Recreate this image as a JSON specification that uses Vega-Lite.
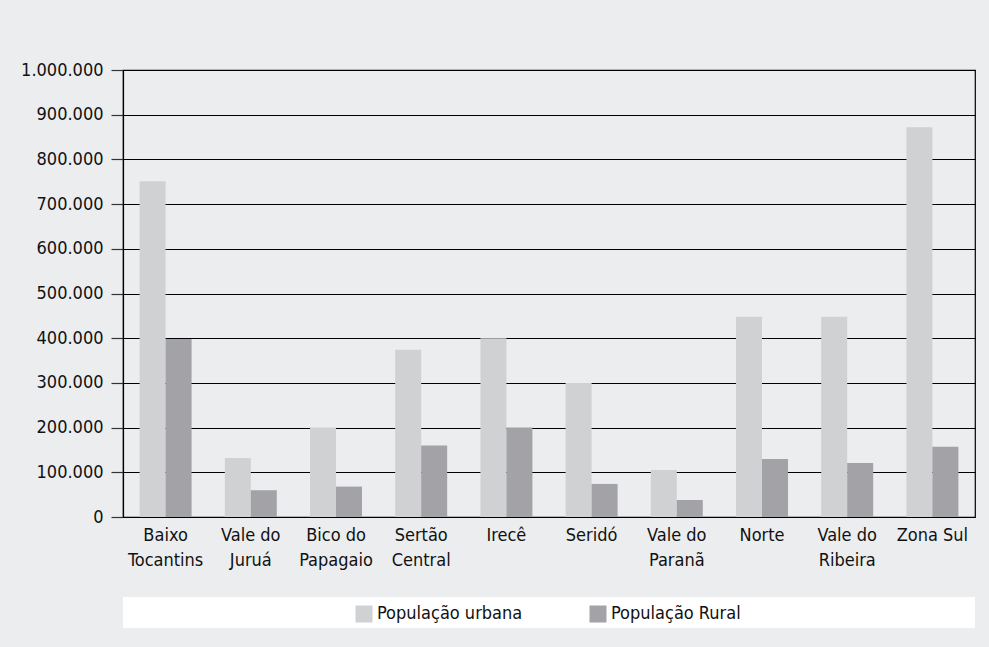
{
  "$schema": "https://vega.github.io/schema/vega-lite/v6.json",
  "width": 852,
  "height": 447,
  "autosize": {"type": "none"},
  "padding": {"left": 123, "top": 70, "right": 14, "bottom": 130},
  "background": "#ecedef",
  "config": {
    "font": "'DejaVu Sans Condensed', 'Roboto Condensed', Roboto, sans-serif",
    "view": {"stroke": "#000000", "strokeWidth": 1.2, "fill": "#ecedef"}
  },
  "data": {
    "values": [
      {"regiao": "Baixo Tocantins", "serie": "População urbana", "valor": 751000},
      {"regiao": "Baixo Tocantins", "serie": "População Rural", "valor": 398000},
      {"regiao": "Vale do Juruá", "serie": "População urbana", "valor": 132000},
      {"regiao": "Vale do Juruá", "serie": "População Rural", "valor": 60000},
      {"regiao": "Bico do Papagaio", "serie": "População urbana", "valor": 200000},
      {"regiao": "Bico do Papagaio", "serie": "População Rural", "valor": 68000},
      {"regiao": "Sertão Central", "serie": "População urbana", "valor": 374000},
      {"regiao": "Sertão Central", "serie": "População Rural", "valor": 160000},
      {"regiao": "Irecê", "serie": "População urbana", "valor": 400000},
      {"regiao": "Irecê", "serie": "População Rural", "valor": 200000},
      {"regiao": "Seridó", "serie": "População urbana", "valor": 300000},
      {"regiao": "Seridó", "serie": "População Rural", "valor": 74000},
      {"regiao": "Vale do Paranã", "serie": "População urbana", "valor": 105000},
      {"regiao": "Vale do Paranã", "serie": "População Rural", "valor": 38000},
      {"regiao": "Norte", "serie": "População urbana", "valor": 448000},
      {"regiao": "Norte", "serie": "População Rural", "valor": 130000},
      {"regiao": "Vale do Ribeira", "serie": "População urbana", "valor": 448000},
      {"regiao": "Vale do Ribeira", "serie": "População Rural", "valor": 121000},
      {"regiao": "Zona Sul", "serie": "População urbana", "valor": 872000},
      {"regiao": "Zona Sul", "serie": "População Rural", "valor": 157000}
    ]
  },
  "layer": [
    {
      "mark": {"type": "rect", "fill": "#ffffff", "clip": false},
      "encoding": {
        "y": {"datum": -179000, "type": "quantitative", "scale": {"domain": [0, 1000000], "nice": false}},
        "y2": {"datum": -248000}
      }
    },
    {
      "mark": {"type": "bar"},
      "encoding": {
        "x": {
          "field": "regiao",
          "type": "nominal",
          "sort": null,
          "scale": {"paddingInner": 0.39, "paddingOuter": 0.195},
          "axis": {
            "title": null,
            "labelAngle": 0,
            "ticks": false,
            "domainColor": "#000000",
            "domainWidth": 1.2,
            "labelFontSize": 18,
            "labelColor": "#111111",
            "labelPadding": 9,
            "labelLineHeight": 25,
            "labelBaseline": "top",
            "labelExpr": "indexof(datum.label, ' ') < 0 || datum.label == 'Zona Sul' ? datum.label : [substring(datum.label, 0, lastindexof(datum.label, ' ')), substring(datum.label, lastindexof(datum.label, ' ') + 1)]"
          }
        },
        "xOffset": {
          "field": "serie",
          "type": "nominal",
          "sort": ["População urbana", "População Rural"],
          "scale": {"paddingInner": 0, "paddingOuter": 0}
        },
        "y": {
          "field": "valor",
          "type": "quantitative",
          "scale": {"domain": [0, 1000000], "nice": false},
          "axis": {
            "title": null,
            "values": [0, 100000, 200000, 300000, 400000, 500000, 600000, 700000, 800000, 900000, 1000000],
            "labelExpr": "replace(format(datum.value, ','), regexp(',', 'g'), '.')",
            "labelFontSize": 18,
            "labelColor": "#111111",
            "labelPadding": 8,
            "tickSize": 12,
            "tickColor": "#333333",
            "tickWidth": 1.2,
            "domainColor": "#000000",
            "domainWidth": 1.2,
            "grid": true,
            "gridColor": "#000000",
            "gridWidth": 1.2
          }
        },
        "color": {
          "field": "serie",
          "type": "nominal",
          "scale": {"domain": ["População urbana", "População Rural"], "range": ["#d0d1d3", "#a3a2a7"]},
          "legend": {
            "title": null,
            "orient": "none",
            "direction": "horizontal",
            "legendX": 232,
            "legendY": 535,
            "symbolType": "square",
            "symbolSize": 289,
            "symbolStrokeWidth": 0,
            "labelFontSize": 18,
            "labelColor": "#111111",
            "labelOffset": 4,
            "columnPadding": 66,
            "padding": 0
          }
        }
      }
    }
  ]
}
